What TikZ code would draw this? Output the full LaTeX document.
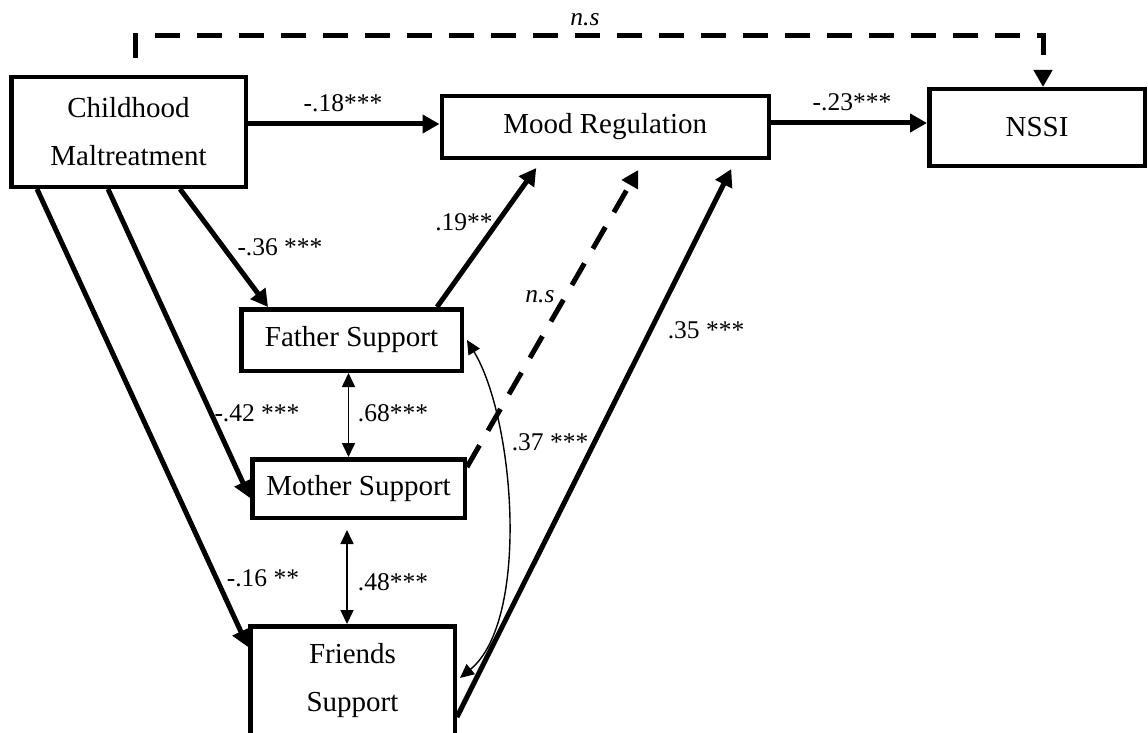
\documentclass[tikz,border=0pt]{standalone}
\usepackage{fontspec}
\setmainfont{Liberation Serif}
\usetikzlibrary{arrows.meta}
\begin{document}
\begin{tikzpicture}[x=1pt,y=-1pt,
  box/.style={draw,line width=4.5pt,inner sep=0pt,align=center,
    font=\fontsize{29}{48}\selectfont},
  effect/.style={line width=5pt,-{Triangle[length=17pt,width=18pt]}},
  nseffect/.style={effect,dash pattern=on 25pt off 17pt},
  corr/.style={line width=1.6pt,
    {Triangle[length=14pt,width=13pt]}-{Triangle[length=14pt,width=13pt]}},
  coef/.style={font=\fontsize{25.5}{30}\selectfont,inner sep=0pt}]

\useasboundingbox (0,0) rectangle (1148,733);

% variables
\node[box,minimum width=234.5pt,minimum height=109.5pt] (cm) at (128.5,132) {Childhood\\Maltreatment};
\node[box,minimum width=327pt,minimum height=61.5pt] (mr) at (605.25,127) {Mood Regulation};
\node[box,minimum width=215.5pt,minimum height=76.5pt] (nssi) at (1037,127.5) {NSSI};
\node[box,minimum width=220.5pt,minimum height=61.5pt] (fs) at (351.5,340) {Father Support};
\node[box,minimum width=212.5pt,minimum height=58.5pt] (ms) at (358.5,488.5) {Mother Support};
\node[box,minimum width=204.5pt,minimum height=109.5pt] (frs) at (352.5,681) {Friends\\Support};

% direct paths
\draw[effect] ([yshift=8pt]cm.east) -- ([yshift=3pt]mr.west);
\draw[effect] ([yshift=4pt]mr.east) -- ([yshift=4.5pt]nssi.west);
\draw[nseffect] ([xshift=6.5pt,yshift=17pt]cm.north) -- ++(0,-22) -| ([xshift=6pt]nssi.north);

% maltreatment to support sources
\draw[effect] ([xshift=51.5pt]cm.south) -- ([xshift=-83.5pt]fs.north);
\draw[effect] ([xshift=-20.5pt]cm.south) -- ([yshift=-9.5pt]ms.west);
\draw[effect] ([xshift=-91.5pt]cm.south) -- ([yshift=34pt]frs.west);

% support sources to mood regulation
\draw[effect] ([xshift=85.5pt]fs.north) -- ([xshift=-69pt,yshift=-8pt]mr.south);
\draw[nseffect] ([yshift=-10pt]ms.north east) -- ([xshift=33pt,yshift=-10pt]mr.south);
\draw[effect] ([yshift=-36pt]frs.east) -- ([xshift=126pt,yshift=-9pt]mr.south);

% correlations among support sources
\draw[corr] ([xshift=-3pt]fs.south) -- ([xshift=-10pt]ms.north);
\draw[corr] ([xshift=-11.5pt,yshift=-10pt]ms.south) -- ([xshift=-5.5pt]frs.north);
\draw[corr,line width=1.4pt] ([xshift=3pt]fs.east) .. controls +(48,80) and +(70,-58) .. ([xshift=3pt,yshift=3pt]frs.east);

% coefficients
\node[coef] (c1) at (343,103) {-.18***};
\node[coef] (c2) at (852,102) {-.23***};
\node[coef] (c3) at (585,20) {\textit{n.s}};
\node[coef] (c4) at (280,247) {-.36 ***};
\node[coef] (c5) at (464,222) {.19**};
\node[coef] (c6) at (540,297) {\textit{n.s}};
\node[coef] (c7) at (706,330) {.35 ***};
\node[coef] (c8) at (257,413) {-.42 ***};
\node[coef] (c9) at (393,413) {.68***};
\node[coef] (c10) at (550,442) {.37 ***};
\node[coef] (c11) at (263,578) {-.16 **};
\node[coef] (c12) at (393,582) {.48***};
\end{tikzpicture}
\end{document}
